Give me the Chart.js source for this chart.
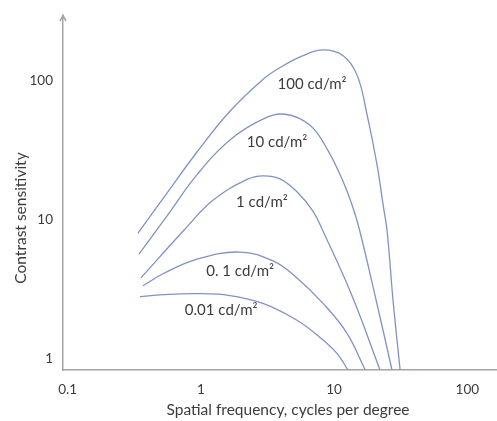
<!DOCTYPE html>
<html><head><meta charset="utf-8">
<script src="https://cdn.jsdelivr.net/npm/chart.js@4/dist/chart.umd.min.js"></script>
<style>html,body{margin:0;padding:0;background:#fff;} #wrap{width:497px;height:421px;}</style>
</head><body><div id="wrap"><canvas id="c" width="497" height="421"></canvas></div>
<script>
// Spatial frequency (cycles per degree) and contrast sensitivity, one pair of arrays per luminance
const freq100 = [0.337, 0.519, 0.935, 1.65, 2.92, 3.92, 5.84, 8.26, 11.7, 14.9, 17.7, 21.0, 23.3, 25.0, 27.7, 31.3];
const sens100 = [8.02, 14.2, 30.7, 60.2, 102, 124, 151, 166, 151, 109, 56.4, 24.8, 12.9, 8.28, 2.63, 0.835];
const freq10 = [0.343, 0.566, 0.935, 1.65, 2.92, 4.28, 6.59, 8.85, 11.7, 13.9, 15.6, 20.3, 27.2];
const sens10 = [5.68, 10.9, 21.1, 37.4, 52.8, 57.3, 47.8, 32.3, 18.8, 12.1, 8.28, 2.86, 0.835];
const freq1 = [0.355, 0.734, 1.23, 2.22, 2.92, 3.92, 5.26, 6.95, 8.26, 13.6, 22.1];
const sens1 = [3.83, 8.28, 13.8, 19.5, 20.7, 19.7, 15.9, 11.5, 8.28, 2.86, 0.835];
const freq01 = [0.367, 0.519, 0.935, 1.97, 3.48, 5.26, 8.26, 12.5, 17.1];
const sens01 = [3.36, 4.10, 5.23, 5.87, 5.07, 3.83, 2.51, 1.53, 0.835];
const freq001 = [0.349, 0.519, 0.935, 1.65, 2.92, 5.26, 7.84, 10.5, 12.7];
const sens001 = [2.81, 2.90, 2.95, 2.86, 2.51, 1.90, 1.43, 1.10, 0.835];

const curveLabels = ['100 cd/m²', '10 cd/m²', '1 cd/m²', '0. 1 cd/m²', '0.01 cd/m²'];
const labelFreq = [6.83, 3.73, 2.87, 1.97, 1.42];
const labelSens = [93.7, 36.2, 13.3, 4.30, 2.23];

const xTickValues = [0.1, 1, 10, 100];
const yTickValues = [1, 10, 100];
const xTitle = 'Spatial frequency, cycles per degree';
const yTitle = 'Contrast sensitivity';

const curveColor = '#8093c6';
const textColor = '#3c3c3c';
const axisColor = '#a4a4a4';
const fontFamily = 'Lato, "Open Sans", sans-serif';

const series = [[freq100, sens100], [freq10, sens10], [freq1, sens1], [freq01, sens01], [freq001, sens001]];
const datasets = series.map(([f, s], k) => ({
  label: curveLabels[k],
  data: f.map((v, i) => ({x: v, y: s[i]})),
  borderColor: curveColor,
  borderWidth: 1.3,
  pointRadius: 0,
  tension: 0.4,
  fill: false,
  clip: false
}));

const decor = {
  id: 'decor',
  afterDraw(chart) {
    const {ctx, chartArea, scales} = chart;
    ctx.save();
    // arrow at top of y axis
    ctx.strokeStyle = axisColor;
    ctx.lineWidth = 1.5;
    ctx.beginPath();
    ctx.moveTo(chartArea.left, chartArea.top + 1);
    ctx.lineTo(chartArea.left, chartArea.top - 3);
    ctx.stroke();
    ctx.beginPath();
    ctx.moveTo(chartArea.left - 3, chartArea.top + 3);
    ctx.lineTo(chartArea.left, chartArea.top - 3);
    ctx.lineTo(chartArea.left + 3, chartArea.top + 3);
    ctx.stroke();
    // curve labels
    ctx.fillStyle = textColor;
    ctx.font = '15px ' + fontFamily;
    ctx.textAlign = 'center';
    ctx.textBaseline = 'middle';
    curveLabels.forEach((t, i) => {
      ctx.fillText(t, scales.x.getPixelForValue(labelFreq[i]), scales.y.getPixelForValue(labelSens[i]));
    });
    // axis titles
    ctx.font = '15.5px ' + fontFamily;
    ctx.fillText(xTitle, 288, 410);
    ctx.translate(21, 218);
    ctx.rotate(-Math.PI / 2);
    ctx.fillText(yTitle, 0, 0);
    ctx.restore();
  }
};

new Chart(document.getElementById('c'), {
  type: 'line',
  data: {datasets},
  options: {
    responsive: false,
    animation: false,
    events: [],
    layout: {padding: {top: 15, right: 0, bottom: 0, left: 0}},
    plugins: {legend: {display: false}, tooltip: {enabled: false}},
    scales: {
      x: {
        type: 'logarithmic',
        min: 0.0922, max: 167,
        grid: {display: false, drawTicks: false},
        border: {display: true, color: axisColor, width: 1.5},
        ticks: {padding: 12, color: textColor, font: {family: fontFamily, size: 13.5}, autoSkip: false, maxRotation: 0,
          callback: v => xTickValues.includes(v) ? String(v) : ''},
        afterBuildTicks: s => { s.ticks = xTickValues.map(v => ({value: v})); },
        afterFit: s => { s.height = 51; }
      },
      y: {
        type: 'logarithmic',
        min: 0.835, max: 281,
        grid: {display: false, drawTicks: false},
        border: {display: true, color: axisColor, width: 1.5},
        ticks: {padding: 10, color: textColor, font: {family: fontFamily, size: 13.5}, autoSkip: false,
          callback: v => yTickValues.includes(v) ? String(v) : ''},
        afterBuildTicks: s => { s.ticks = yTickValues.map(v => ({value: v})); },
        afterFit: s => { s.width = 63; }
      }
    }
  },
  plugins: [decor]
});
</script>
</body></html>
